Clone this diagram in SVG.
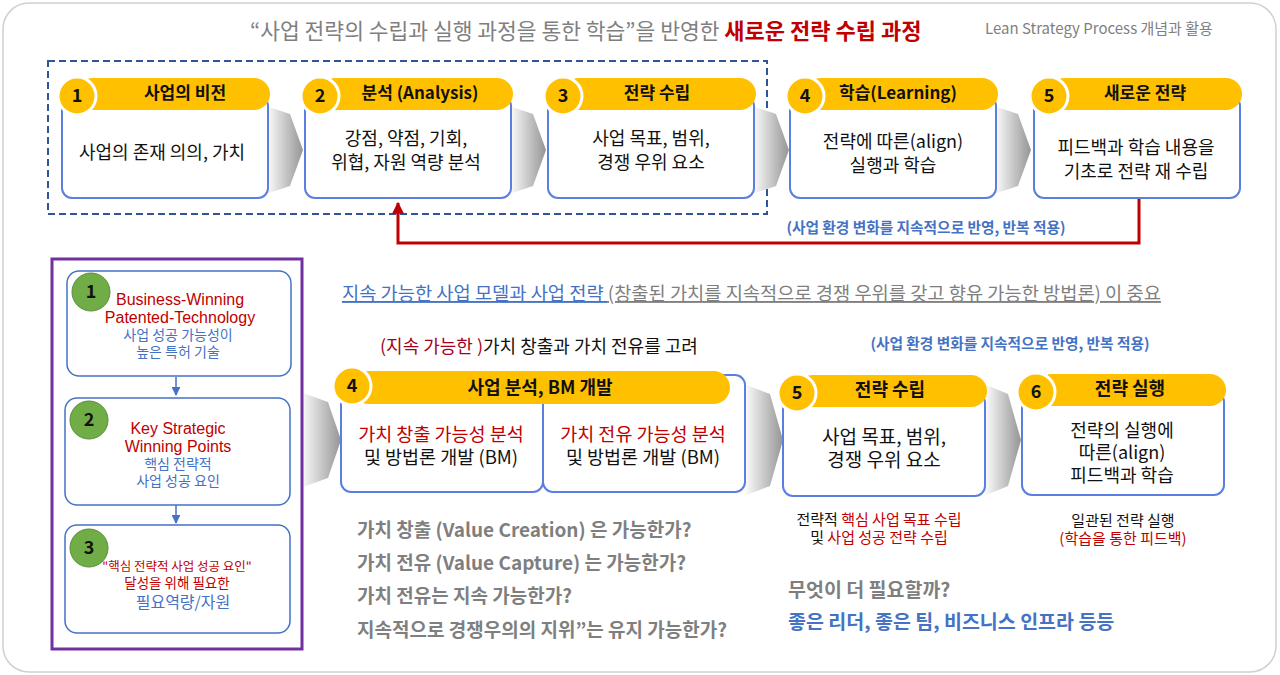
<svg xmlns="http://www.w3.org/2000/svg" width="1280" height="675" viewBox="0 0 1280 675">
<defs>
<style>
text{font-family:"Noto Sans CJK KR","Noto Sans",sans-serif;}
text.en{font-family:"Liberation Sans","Noto Sans CJK KR",sans-serif;}
.frame{fill:#fff;stroke:#d0d0d0;stroke-width:1.5;}
.body{fill:#fff;stroke:#5b7fe0;stroke-width:2;}
.hdr{fill:#ffc000;}
.num{fill:#ffc000;stroke:#fff;stroke-width:3;}
.gnum{fill:#70ad47;stroke:#5a8c3a;stroke-width:1;}
.numt{font-size:18px;font-weight:bold;fill:#111;text-anchor:middle;}
.ht{font-size:17px;font-weight:bold;fill:#111;text-anchor:middle;}
.bt{font-size:18px;fill:#111;text-anchor:middle;}
.lb{fill:#fff;stroke:#4472c4;stroke-width:1.5;}
.red{fill:#c00000;}
.blue{fill:#4472c4;}
.gray{fill:#7f7f7f;}
.q{font-size:19px;font-weight:bold;fill:#7f7f7f;}
.chev{fill:url(#cg);}
</style>
<linearGradient id="cg" x1="0" y1="0" x2="1" y2="0">
<stop offset="0" stop-color="#ffffff"/>
<stop offset="1" stop-color="#959595"/>
</linearGradient>
<marker id="ra" viewBox="0 0 10 10" refX="9" refY="5" markerWidth="4" markerHeight="4" orient="auto">
<path d="M0,0 L10,5 L0,10 Z" fill="#c00000"/>
</marker>
<marker id="ba" viewBox="0 0 10 10" refX="9" refY="5" markerWidth="6" markerHeight="6" orient="auto">
<path d="M0,0 L10,5 L0,10 Z" fill="#4472c4"/>
</marker>
</defs>

<rect class="frame" x="3" y="3" width="1273" height="669" rx="26"/>

<g id="title">
<text x="250" y="39" font-size="21.5"><tspan class="gray">“사업 전략의 수립과 실행 과정을 통한 학습”을 반영한 </tspan><tspan class="red" font-weight="bold" font-size="22">새로운 전략 수립 과정</tspan></text>
<text x="985" y="34" font-size="15" class="gray">Lean Strategy Process 개념과 활용</text>
</g>

<rect id="dashed-group" x="48" y="61" width="719" height="153" fill="none" stroke="#2f5597" stroke-width="2" stroke-dasharray="7,4"/>

<g id="connectors">
<path class="chev" d="M266,106 L290,114 L303,150 L290,186 L266,194 Z"/>
<path class="chev" d="M509,106 L533,114 L546,150 L533,186 L509,194 Z"/>
<path class="chev" d="M752,106 L776,114 L789,150 L776,186 L752,194 Z"/>
<path class="chev" d="M994,106 L1018,114 L1031,150 L1018,186 L994,194 Z"/>
<path d="M1139,199 V243 H398 V203" fill="none" stroke="#c00000" stroke-width="3" marker-end="url(#ra)"/>
<path class="chev" d="M300,392 L328,402 L341,440 L328,478 L300,488 Z"/>
<path class="chev" d="M744,384 L770,394 L783,440 L770,486 L744,496 Z"/>
<path class="chev" d="M984,384 L1008,394 L1021,440 L1008,486 L984,496 Z"/>
<line x1="176" y1="377" x2="176" y2="395" stroke="#4472c4" stroke-width="1.5" marker-end="url(#ba)"/>
<line x1="176" y1="505" x2="176" y2="523" stroke="#4472c4" stroke-width="1.5" marker-end="url(#ba)"/>
</g>

<g id="top1">
<rect class="body" x="62" y="96" width="206" height="102" rx="10"/>
<rect class="hdr" x="77" y="78" width="193" height="32" rx="16"/>
<circle class="num" cx="77" cy="96" r="19"/>
<text class="numt" x="77" y="102">1</text>
<text class="ht" x="185" y="99">사업의 비전</text>
<text class="bt" x="162" y="159">사업의 존재 의의, 가치</text>
</g>
<g id="top2">
<rect class="body" x="305" y="96" width="206" height="102" rx="10"/>
<rect class="hdr" x="320" y="78" width="193" height="32" rx="16"/>
<circle class="num" cx="320" cy="96" r="19"/>
<text class="numt" x="320" y="102">2</text>
<text class="ht" x="420" y="99">분석 (Analysis)</text>
<text class="bt" x="406" y="145">강점, 약점, 기회,</text>
<text class="bt" x="406" y="169">위협, 자원 역량 분석</text>
</g>
<g id="top3">
<rect class="body" x="548" y="96" width="206" height="102" rx="10"/>
<rect class="hdr" x="563" y="78" width="193" height="32" rx="16"/>
<circle class="num" cx="563" cy="96" r="19"/>
<text class="numt" x="563" y="102">3</text>
<text class="ht" x="657" y="99">전략 수립</text>
<text class="bt" x="651" y="145">사업 목표, 범위,</text>
<text class="bt" x="651" y="169">경쟁 우위 요소</text>
</g>
<g id="top4">
<rect class="body" x="790" y="96" width="206" height="102" rx="10"/>
<rect class="hdr" x="805" y="78" width="193" height="32" rx="16"/>
<circle class="num" cx="805" cy="96" r="19"/>
<text class="numt" x="805" y="102">4</text>
<text class="ht" x="898" y="99">학습(Learning)</text>
<text class="bt" x="893" y="148">전략에 따른(align)</text>
<text class="bt" x="893" y="172">실행과 학습</text>
</g>
<g id="top5">
<rect class="body" x="1034" y="96" width="206" height="102" rx="10"/>
<rect class="hdr" x="1049" y="78" width="193" height="32" rx="16"/>
<circle class="num" cx="1049" cy="96" r="19"/>
<text class="numt" x="1049" y="102">5</text>
<text class="ht" x="1145" y="99">새로운 전략</text>
<text class="bt" x="1136" y="154">피드백과 학습 내용을</text>
<text class="bt" x="1136" y="178">기초로 전략 재 수립</text>
</g>

<text x="926" y="233" font-size="14.7" font-weight="bold" class="blue" text-anchor="middle">(사업 환경 변화를 지속적으로 반영, 반복 적용)</text>

<g id="left-panel">
<rect x="52" y="259" width="250" height="390" fill="none" stroke="#7030a0" stroke-width="3"/>
<g id="left1">
<rect class="lb" x="67" y="271" width="224" height="105" rx="12"/>
<circle class="gnum" cx="91" cy="292" r="19"/>
<text class="numt" x="91" y="298">1</text>
<text class="en red" x="180" y="305" font-size="16" text-anchor="middle">Business-Winning</text>
<text class="en red" x="180" y="323" font-size="16" text-anchor="middle">Patented-Technology</text>
<text x="178" y="340" font-size="14" class="blue" text-anchor="middle">사업 성공 가능성이</text>
<text x="178" y="357" font-size="14" class="blue" text-anchor="middle">높은  특허 기술</text>
</g>
<g id="left2">
<rect class="lb" x="65" y="398" width="225" height="107" rx="12"/>
<circle class="gnum" cx="89" cy="420" r="19"/>
<text class="numt" x="89" y="426">2</text>
<text class="en red" x="178" y="434" font-size="16" text-anchor="middle">Key Strategic</text>
<text class="en red" x="178" y="452" font-size="16" text-anchor="middle">Winning Points</text>
<text x="178" y="469" font-size="14" class="blue" text-anchor="middle">핵심 전략적</text>
<text x="178" y="486" font-size="14" class="blue" text-anchor="middle">사업 성공 요인</text>
</g>
<g id="left3">
<rect class="lb" x="65" y="525" width="225" height="108" rx="12"/>
<circle class="gnum" cx="89" cy="548" r="19"/>
<text class="numt" x="89" y="554">3</text>
<text x="177" y="571" font-size="12.5" class="red" text-anchor="middle">"핵심 전략적 사업 성공 요인"</text>
<text x="177" y="588" font-size="13.5" class="red" text-anchor="middle">달성을 위해 필요한</text>
<text x="183" y="608" font-size="16" class="blue" text-anchor="middle">필요역량/자원</text>
</g>
</g>

<text x="342" y="300" font-size="18.7"><tspan class="blue" style="text-decoration:underline">지속 가능한 사업 모델과 사업 전략 </tspan><tspan class="gray" style="text-decoration:underline">(창출된 가치를 지속적으로 경쟁 우위를 갖고 향유 가능한 방법론) 이 중요</tspan></text>

<text x="380" y="353" font-size="18"><tspan fill="#a50021">(지속 가능한 )</tspan><tspan fill="#111">가치 창출과 가치 전유를 고려</tspan></text>

<text x="1010" y="349" font-size="14.7" font-weight="bold" class="blue" text-anchor="middle">(사업 환경 변화를 지속적으로 반영, 반복 적용)</text>

<g id="bm4">
<rect class="body" x="341" y="386" width="202" height="106" rx="10"/>
<rect class="body" x="543" y="375" width="202" height="117" rx="10"/>
<rect class="hdr" x="352" y="371" width="378" height="33" rx="16.5"/>
<circle class="num" cx="352" cy="386" r="19"/>
<text class="numt" x="352" y="392">4</text>
<text class="ht" x="540" y="394" style="font-size:18px">사업 분석, BM 개발</text>
<text x="441" y="441" font-size="18.5" class="red" text-anchor="middle">가치 창출 가능성 분석</text>
<text x="441" y="464" font-size="18.5" fill="#111" text-anchor="middle">및 방법론 개발 (BM)</text>
<text x="643" y="441" font-size="18.5" class="red" text-anchor="middle">가치 전유 가능성 분석</text>
<text x="643" y="464" font-size="18.5" fill="#111" text-anchor="middle">및 방법론 개발 (BM)</text>
</g>

<g id="bm5">
<rect class="body" x="783" y="393" width="202" height="103" rx="10"/>
<rect class="hdr" x="797" y="375" width="190" height="32" rx="16"/>
<circle class="num" cx="797" cy="393" r="19"/>
<text class="numt" x="797" y="399">5</text>
<text class="ht" x="890" y="396" style="font-size:18px">전략 수립</text>
<text x="884" y="444" font-size="19" fill="#111" text-anchor="middle">사업 목표, 범위,</text>
<text x="884" y="467" font-size="19" fill="#111" text-anchor="middle">경쟁 우위 요소</text>
</g>

<g id="bm6">
<rect class="body" x="1022" y="392" width="202" height="103" rx="10"/>
<rect class="hdr" x="1036" y="374" width="190" height="32" rx="16"/>
<circle class="num" cx="1036" cy="392" r="19"/>
<text class="numt" x="1036" y="398">6</text>
<text class="ht" x="1130" y="395" style="font-size:18px">전략 실행</text>
<text x="1122" y="437" font-size="18" fill="#111" text-anchor="middle">전략의 실행에</text>
<text x="1122" y="459" font-size="18" fill="#111" text-anchor="middle">따른(align)</text>
<text x="1122" y="482" font-size="18" fill="#111" text-anchor="middle">피드백과 학습</text>
</g>

<text x="879" y="525" font-size="15" text-anchor="middle"><tspan fill="#111">전략적 </tspan><tspan class="red">핵심 사업 목표 수립</tspan></text>
<text x="879" y="543" font-size="15" text-anchor="middle"><tspan fill="#111">및  </tspan><tspan class="red">사업 성공 전략 수립</tspan></text>
<text x="1123" y="526" font-size="15" fill="#111" text-anchor="middle">일관된 전략 실행</text>
<text x="1123" y="544" font-size="15" class="red" text-anchor="middle">(학습을 통한 피드백)</text>

<g id="questions">
<text class="q" x="357" y="537">가치 창출 (Value Creation) 은 가능한가?</text>
<text class="q" x="357" y="570">가치 전유 (Value Capture) 는 가능한가?</text>
<text class="q" x="357" y="603">가치 전유는 지속 가능한가?</text>
<text class="q" x="357" y="637">지속적으로 경쟁우의의 지위”는 유지 가능한가?</text>
<text class="q" x="788" y="597" style="font-size:19.5px">무엇이 더 필요할까?</text>
<text x="788" y="629" font-size="19.5" font-weight="bold" class="blue">좋은 리더, 좋은 팀, 비즈니스 인프라 등등</text>
</g>
</svg>
